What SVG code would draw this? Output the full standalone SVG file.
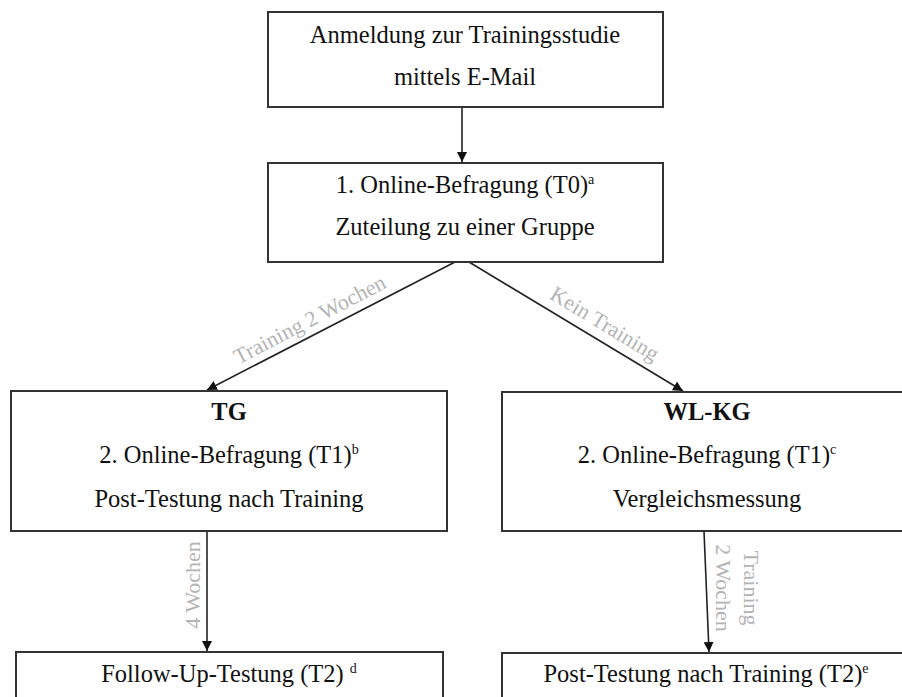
<svg xmlns="http://www.w3.org/2000/svg" width="902" height="697" viewBox="0 0 902 697">
<defs>
<style>
.box{fill:#fff;stroke:#333;stroke-width:2}
.t{font-family:"Liberation Serif","Times New Roman",serif;font-size:24.5px;fill:#111;text-anchor:middle}
.b{font-weight:bold}
.sup{font-size:14px}
.lbl{font-family:"Liberation Serif","Times New Roman",serif;font-size:22px;fill:#b4b4b4;text-anchor:middle}
.ln{stroke:#222;stroke-width:1.6;fill:none;marker-end:url(#ah)}
</style>
<marker id="ah" viewBox="0 0 10 10" refX="10" refY="5" markerWidth="10" markerHeight="10" markerUnits="userSpaceOnUse" orient="auto">
<path d="M0,0 L10,5 L0,10 z" fill="#111"/>
</marker>
</defs>
<rect width="902" height="697" fill="#fff"/>
<g id="connectors">
<line class="ln" x1="462" y1="107" x2="462" y2="162"/>
<line class="ln" x1="455" y1="262" x2="207" y2="390"/>
<line class="ln" x1="469" y1="262" x2="683" y2="391"/>
<line class="ln" x1="207" y1="531" x2="207" y2="651"/>
<line class="ln" x1="704" y1="531" x2="709" y2="652"/>
<text class="lbl" transform="translate(313,326) rotate(-27.5)">Training 2 Wochen</text>
<text class="lbl" transform="translate(601,330) rotate(31.3)">Kein Training</text>
<text class="lbl" transform="translate(200,585) rotate(-90)">4 Wochen</text>
<text class="lbl" transform="translate(744,588) rotate(90)">Training</text>
<text class="lbl" transform="translate(716,588) rotate(90)">2 Wochen</text>
</g>
<g id="n1">
<rect class="box" x="268" y="12" width="395" height="95"/>
<text class="t" x="465" y="43">Anmeldung zur Trainingsstudie</text>
<text class="t" x="465" y="85">mittels E-Mail</text>
</g>
<g id="n2">
<rect class="box" x="268" y="163" width="395" height="99"/>
<text class="t" x="465" y="193">1. Online-Befragung (T0)<tspan class="sup" dy="-9">a</tspan></text>
<text class="t" x="465" y="235">Zuteilung zu einer Gruppe</text>
</g>
<g id="tg">
<rect class="box" x="11" y="391" width="436" height="140"/>
<text class="t b" x="229" y="420">TG</text>
<text class="t" x="229" y="463">2. Online-Befragung (T1)<tspan class="sup" dy="-9">b</tspan></text>
<text class="t" x="229" y="507">Post-Testung nach Training</text>
</g>
<g id="wlkg">
<rect class="box" x="502" y="392" width="412" height="139"/>
<text class="t b" x="707" y="420">WL-KG</text>
<text class="t" x="707" y="463">2. Online-Befragung (T1)<tspan class="sup" dy="-9">c</tspan></text>
<text class="t" x="707" y="507">Vergleichsmessung</text>
</g>
<g id="fu">
<rect class="box" x="16" y="652" width="427" height="60"/>
<text class="t" x="229" y="682">Follow-Up-Testung (T2) <tspan class="sup" dy="-9">d</tspan></text>
</g>
<g id="post">
<rect class="box" x="502" y="653" width="412" height="60"/>
<text class="t" x="706" y="682">Post-Testung nach Training (T2)<tspan class="sup" dy="-9">e</tspan></text>
</g>
</svg>
